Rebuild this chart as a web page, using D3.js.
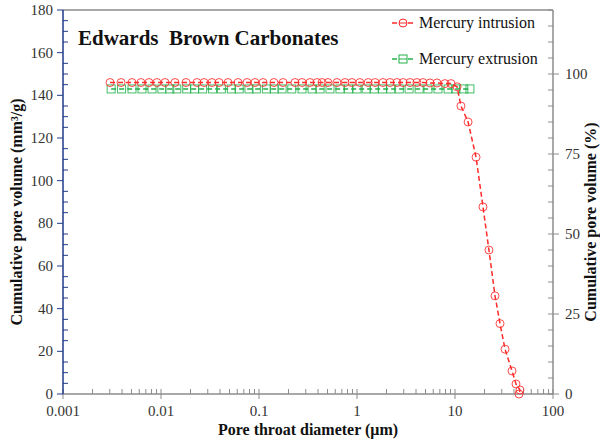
<!DOCTYPE html>
<html><head><meta charset="utf-8">
<script src="https://cdn.jsdelivr.net/npm/d3@7"></script>
<style>body{margin:0;background:#fff}svg{display:block}</style>
</head><body>
<svg id="c" width="600" height="439"></svg>
<script>
// ---- data ----
const intrusionDiameter = [0.00302,0.00391,0.00506,0.00625,0.00755,0.0091,0.0110,0.0139,0.0180,0.0233,0.0275,0.0331,0.0391,0.0483,0.0611,0.0755,0.0910,0.110,0.142,0.176,0.233,0.275,0.331,0.391,0.440,0.506,0.625,0.755,0.889,1.07,1.30,1.53,1.84,2.17,2.56,2.95,3.48,4.09,4.71,5.56,6.55,7.90,9.1,10.5,11.5,13.6,16.4,19.3,22.2,25.6,28.8,32.4,38.2,41.9,46,45];
const intrusionVolume = [146,146,146,146,146,146,146,146,146,146,146,146,146,146,146,146,146,146,146,146,146,146,146,146,146,146,146,146,146,146,146,146,146,146,146,146,146,146,146,145.8,145.8,145.5,145.5,144,135,127.5,111,87.7,67.5,46,33,21,10.8,4.7,1.9,0];
const extrusionDiameter = [0.0031,0.00396,0.00506,0.0064,0.0081,0.0102,0.0123,0.0145,0.0183,0.0220,0.0266,0.0336,0.0413,0.0522,0.0628,0.079,0.094,0.119,0.143,0.172,0.216,0.275,0.348,0.420,0.530,0.670,0.820,1.00,1.24,1.50,1.82,2.21,2.70,3.40,4.30,5.30,6.70,8.50,10.20,12.3,14.2];
const extrusionVolume = extrusionDiameter.map(() => 143);
const xTickLabels = ["0.001","0.01","0.1","1","10","100"];
const yTicks = [0,20,40,60,80,100,120,140,160,180];
const y2Ticks = [0,25,50,75,100];

// ---- layout ----
const svg = d3.select("#c");
const L = 63, R = 553, T = 10, B = 394;
const x = d3.scaleLog().domain([0.001,100]).range([L,R]);
const y = d3.scaleLinear().domain([0,180]).range([B,T]);
const y2 = d3.scaleLinear().domain([0,120]).range([B,T]);
const serif = "'Liberation Serif','Times New Roman',serif";
const grey = "#8c8c8c", navy = "#1f3a8a";
const red = "#ff2a2a", green = "#22b04b";

// top border
svg.append("line").attr("x1",L).attr("x2",R).attr("y1",T).attr("y2",T).attr("stroke",grey).attr("stroke-width",1.5);

// x axis
const xMajor = xTickLabels.map(Number);
const xMinor = [];
for (let e=-3;e<2;e++) for (let k=2;k<10;k++) xMinor.push(k*Math.pow(10,e));
const gx = svg.append("g").attr("transform",`translate(0,${B})`);
gx.append("line").attr("x1",L).attr("x2",R).attr("stroke",grey).attr("stroke-width",1.5);
gx.selectAll(".mn").data(xMinor).join("line").attr("x1",d=>x(d)).attr("x2",d=>x(d)).attr("y1",0).attr("y2",-5).attr("stroke",grey);
gx.selectAll(".mj").data(xMajor).join("line").attr("x1",d=>x(d)).attr("x2",d=>x(d)).attr("y1",5).attr("y2",-5).attr("stroke",grey);
gx.selectAll("text").data(xTickLabels).join("text").attr("x",d=>x(+d)).attr("y",22).attr("text-anchor","middle")
  .attr("font-family",serif).attr("font-size",15).attr("fill","#333").text(d=>d);

// left y axis
const gy = svg.append("g").attr("transform",`translate(${L},0)`);
gy.append("line").attr("y1",T).attr("y2",B).attr("stroke",navy).attr("stroke-width",1.5);
gy.selectAll(".mn").data(d3.range(0,181,5).filter(v=>v%20)).join("line").attr("y1",d=>y(d)).attr("y2",d=>y(d)).attr("x1",0).attr("x2",5).attr("stroke",navy);
gy.selectAll(".mj").data(yTicks).join("line").attr("y1",d=>y(d)).attr("y2",d=>y(d)).attr("x1",-6).attr("x2",0).attr("stroke",navy);
gy.selectAll("text").data(yTicks).join("text").attr("x",-10).attr("y",d=>y(d)+5).attr("text-anchor","end")
  .attr("font-family",serif).attr("font-size",15).attr("fill","#333").text(d=>d);

// right y axis
const gr = svg.append("g").attr("transform",`translate(${R},0)`);
gr.append("line").attr("y1",T).attr("y2",B).attr("stroke",grey).attr("stroke-width",1.5);
gr.selectAll(".mn").data(d3.range(0,121,5).filter(v=>v%25)).join("line").attr("y1",d=>y2(d)).attr("y2",d=>y2(d)).attr("x1",-5).attr("x2",0).attr("stroke",grey);
gr.selectAll(".mj").data(y2Ticks).join("line").attr("y1",d=>y2(d)).attr("y2",d=>y2(d)).attr("x1",-5).attr("x2",6).attr("stroke",grey);
gr.selectAll("text").data(y2Ticks).join("text").attr("x",12).attr("y",d=>y2(d)+5).attr("text-anchor","start")
  .attr("font-family",serif).attr("font-size",15).attr("fill","#333").text(d=>d);

// axis titles
svg.append("text").attr("x",(L+R)/2).attr("y",435).attr("text-anchor","middle").attr("font-family",serif)
  .attr("font-weight","bold").attr("font-size",16).attr("fill","#111").text("Pore throat diameter (μm)");
svg.append("text").attr("transform",`translate(22,${(T+B)/2+10}) rotate(-90)`).attr("text-anchor","middle").attr("font-family",serif)
  .attr("font-weight","bold").attr("font-size",16).attr("fill","#111").text("Cumulative pore volume (mm³/g)");
svg.append("text").attr("transform",`translate(596,${(T+B)/2+20}) rotate(-90)`).attr("text-anchor","middle").attr("font-family",serif)
  .attr("font-weight","bold").attr("font-size",16).attr("fill","#111").text("Cumulative pore volume (%)");

// title
svg.append("text").attr("x",78).attr("y",45).attr("font-family",serif).attr("font-weight","bold").attr("font-size",21)
  .attr("fill","#111").style("white-space","pre").text("Edwards  Brown Carbonates");

// series
function series(xs, ys, color, shape){
  const pts = xs.map((d,i)=>[d,ys[i]]);
  svg.append("path").datum(pts).attr("fill","none").attr("stroke",color).attr("stroke-width",1.5)
    .attr("stroke-dasharray","5,3").attr("d",d3.line().x(d=>x(d[0])).y(d=>y(d[1])));
  const g = svg.append("g");
  if (shape==="circle"){
    g.selectAll("circle").data(pts).join("circle").attr("cx",d=>x(d[0])).attr("cy",d=>y(d[1])).attr("r",4)
      .attr("fill","none").attr("stroke",color).attr("stroke-width",1).attr("opacity",0.85);
  } else {
    g.selectAll("rect").data(pts).join("rect").attr("x",d=>x(d[0])-4).attr("y",d=>y(d[1])-4).attr("width",8).attr("height",8)
      .attr("fill","none").attr("stroke",color).attr("stroke-width",1).attr("opacity",0.85);
  }
}
series(extrusionDiameter, extrusionVolume, green, "square");
series(intrusionDiameter, intrusionVolume, red, "circle");

// legend
const legend = [{name:"Mercury intrusion",color:red,shape:"circle",y:23},{name:"Mercury extrusion",color:green,shape:"square",y:59}];
legend.forEach(l=>{
  svg.append("line").attr("x1",392).attr("x2",414).attr("y1",l.y).attr("y2",l.y).attr("stroke",l.color).attr("stroke-width",1.5).attr("stroke-dasharray","5,3");
  if (l.shape==="circle") svg.append("circle").attr("cx",403).attr("cy",l.y).attr("r",4).attr("fill","#fff").attr("stroke",l.color);
  else svg.append("rect").attr("x",399).attr("y",l.y-4).attr("width",8).attr("height",8).attr("fill","#fff").attr("stroke",l.color);
  svg.append("line").attr("x1",399).attr("x2",407).attr("y1",l.y).attr("y2",l.y).attr("stroke",l.color);
  svg.append("text").attr("x",419).attr("y",l.y+5).attr("font-family",serif).attr("font-size",16).attr("fill","#111").text(l.name);
});
</script>
</body></html>
